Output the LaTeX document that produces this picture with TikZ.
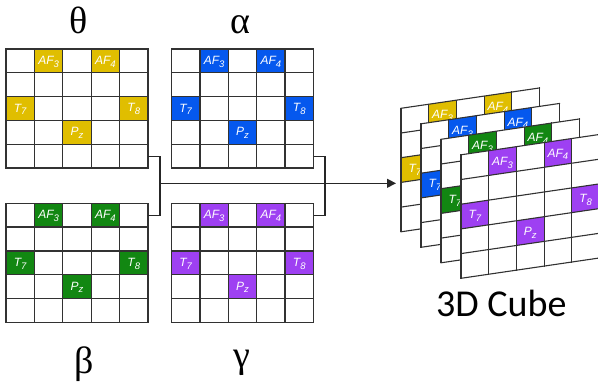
\documentclass[tikz,border=0pt]{standalone}
\usepackage{fontspec}
\setmainfont{Liberation Serif}
\newfontfamily\cellfont{Liberation Sans}
\newfontfamily\capfont{Carlito}
\usetikzlibrary{arrows.meta}
\definecolor{cyellow}{RGB}{224,190,0}
\definecolor{cblue}{RGB}{5,88,238}
\definecolor{cgreen}{RGB}{18,135,18}
\definecolor{cpurple}{RGB}{158,64,242}
\definecolor{gridc}{RGB}{50,50,50}
\tikzset{
  celllabel/.style={text=white,font=\cellfont\itshape\fontsize{12}{12}\selectfont,inner sep=0pt},
  gridline/.style={draw=gridc,line width=1.3pt,line cap=rect},
  cubeline/.style={draw=gridc,line width=1.1pt,line cap=rect},
  greek/.style={font=\fontsize{38}{38}\selectfont,inner sep=0pt,anchor=base},
  wire/.style={draw=black!85,line width=1.1pt},
}
\newcommand\sublab[2]{#1\raisebox{-2.8pt}{\fontsize{9.5}{9.5}\selectfont#2}}
\newcommand\flatgrid[4]{%
  \begin{scope}[shift={(#1,#2)}]
    \fill[white] (0,0) rectangle (142,119);
    \foreach \c/\r/\a/\b in {2/1/AF/3,4/1/AF/4,1/3/T/7,5/3/T/8,3/4/P/z}{
      \fill[#3] ({(\c-1)*28.4},{(\r-1)*23.8}) rectangle ({\c*28.4},{\r*23.8});
      \node[celllabel] (#4-\c-\r) at ({(\c-0.5)*28.4},{(\r-0.5)*23.8+0.8}) {\sublab{\a}{\b}};
    }
    \foreach \i in {0,...,5}{
      \draw[gridline] ({\i*28.4},0) -- ({\i*28.4},119);
      \draw[gridline] (0,{\i*23.8}) -- (142,{\i*23.8});
    }
  \end{scope}}
\newcommand\cubelayer[4]{%
  \begin{scope}[shift={(#1,#2)}]
    \fill[white] (0,0) -- (138.5,-20.35) -- (138.5,103.15) -- (0,123.5) -- cycle;
    \foreach \c/\r/\a/\b in {2/1/AF/3,4/1/AF/4,1/3/T/7,5/3/T/8,3/4/P/z}{
      \fill[#3] ({(\c-1)*27.7},{-4.07*(\c-1)+24.7*(\r-1)}) -- ({\c*27.7},{-4.07*\c+24.7*(\r-1)})
        -- ({\c*27.7},{-4.07*\c+24.7*\r}) -- ({(\c-1)*27.7},{-4.07*(\c-1)+24.7*\r}) -- cycle;
      \node[celllabel] (#4-\c-\r) at ({(\c-0.5)*27.7},{-4.07*(\c-0.5)+24.7*(\r-0.5)+1.5}) {\sublab{\a}{\b}};
    }
    \foreach \i in {0,...,5}{
      \draw[cubeline] ({\i*27.7},{-4.07*\i}) -- ({\i*27.7},{-4.07*\i+123.5});
      \draw[cubeline] (0,{\i*24.7}) -- (138.5,{-20.35+\i*24.7});
    }
  \end{scope}}
\begin{document}
\begin{tikzpicture}[x=1pt,y=-1pt]
\path[use as bounding box,clip] (0,0) rectangle (598,386);
\fill[white] (0,0) rectangle (598,386);
% flat grids
\flatgrid{6}{49}{cyellow}{th}
\flatgrid{171.5}{49}{cblue}{al}
\flatgrid{6}{203.3}{cgreen}{be}
\flatgrid{171.5}{203.3}{cpurple}{ga}
% greek labels
\node[greek] (theta) at (79,33) {θ};
\node[greek] (alpha) at (240.5,33) {α};
\node[greek] (beta) at (84,373) {β};
\node[greek] (gamma) at (242,367) {γ};
% connectors
\coordinate (thR) at (148,156.1);
\coordinate (beR) at (148,215.2);
\coordinate (alR) at (314,156.1);
\coordinate (gaR) at (314,215.2);
\coordinate (lj1) at (160,156.1);
\coordinate (lj2) at (160,215.2);
\coordinate (rj1) at (325,156.1);
\coordinate (rj2) at (325,215.2);
\coordinate (lmid) at (160,183.3);
\coordinate (tip) at (396,183.3);
\draw[wire] (thR) -- (lj1) -- (lj2) -- (beR);
\draw[wire] (alR) -- (rj1) -- (rj2) -- (gaR);
\draw[wire,-{Triangle[length=9pt,width=9pt]}] (lmid) -- (tip);
% cube
\cubelayer{401}{108.3}{cyellow}{cy}
\cubelayer{421}{123.8}{cblue}{cb}
\cubelayer{441}{139.3}{cgreen}{cg}
\cubelayer{461}{154.8}{cpurple}{cp}
\node[font=\capfont\fontsize{38}{38}\selectfont,inner sep=0pt,anchor=base] (cubelabel) at (501.3,316.7) {3D Cube};
\end{tikzpicture}
\end{document}
